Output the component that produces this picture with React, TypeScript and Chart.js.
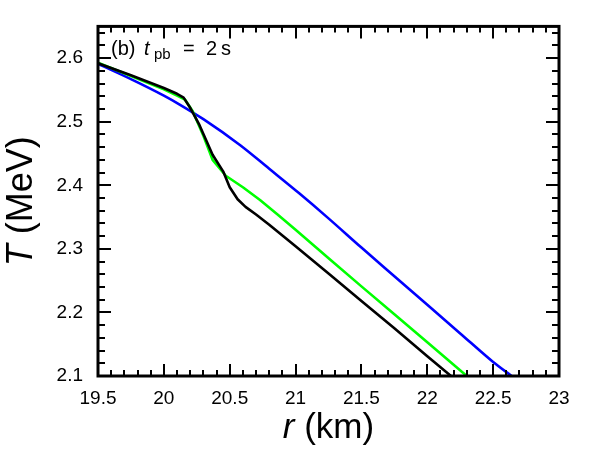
import React, { useEffect, useRef } from "react";
import { Chart, registerables } from "chart.js";

Chart.register(...registerables);

const blackX = [19.5, 19.75, 20.0, 20.1, 20.15, 20.2, 20.27, 20.37, 20.45, 20.5, 20.56, 20.62, 20.7, 20.8, 21.0, 21.264, 21.5, 21.75, 22.0, 22.18];
const blackY = [2.592, 2.573, 2.553, 2.544, 2.538, 2.522, 2.495, 2.448, 2.422, 2.397, 2.378, 2.366, 2.354, 2.338, 2.304, 2.259, 2.218, 2.175, 2.131, 2.1];

const greenX = [19.5, 19.75, 20.0, 20.1, 20.16, 20.22, 20.3, 20.37, 20.47, 20.6, 20.73, 20.87, 21.0, 21.264, 21.5, 21.75, 22.0, 22.3];
const greenY = [2.593, 2.572, 2.551, 2.541, 2.535, 2.516, 2.478, 2.44, 2.415, 2.397, 2.377, 2.353, 2.33, 2.283, 2.241, 2.197, 2.153, 2.1];

const blueX = [19.5, 19.75, 20.0, 20.12, 20.3, 20.58, 20.8, 21.03, 21.25, 21.5, 21.75, 22.0, 22.25, 22.5, 22.64];
const blueY = [2.591, 2.567, 2.541, 2.527, 2.504, 2.463, 2.426, 2.387, 2.348, 2.302, 2.257, 2.212, 2.167, 2.122, 2.1];

const xTicks = [19.5, 20, 20.5, 21, 21.5, 22, 22.5, 23];
const xTickLabels = ["19.5", "20", "20.5", "21", "21.5", "22", "22.5", "23"];
const yTicks = [2.1, 2.2, 2.3, 2.4, 2.5, 2.6];
const yTickLabels = ["2.1", "2.2", "2.3", "2.4", "2.5", "2.6"];
const xMin = 19.5, xMax = 23, yMin = 2.1, yMax = 2.65;
const xMinorStep = 0.1, yMinorStep = 0.02;

const FONT = "'Liberation Sans', Arial, sans-serif";

const toPts = (xs: number[], ys: number[]) => xs.map((x, i) => ({ x, y: ys[i] }));

const framePlugin = {
  id: "frameTicks",
  afterDraw(chart: any) {
    const { ctx, chartArea: a, scales } = chart;
    const xs = scales.x, ys = scales.y;
    ctx.save();
    ctx.strokeStyle = "#000";
    ctx.lineWidth = 2;
    ctx.beginPath();
    for (let v = xMin; v <= xMax + 1e-9; v += xMinorStep) {
      const major = Math.abs(v * 2 - Math.round(v * 2)) < 1e-6;
      const len = major ? 12 : 6;
      const px = Math.round(xs.getPixelForValue(v));
      ctx.moveTo(px, a.bottom);
      ctx.lineTo(px, a.bottom - len);
      ctx.moveTo(px, a.top);
      ctx.lineTo(px, a.top + len);
    }
    for (let v = yMin; v <= yMax + 1e-9; v += yMinorStep) {
      const major = Math.abs(v * 10 - Math.round(v * 10)) < 1e-6;
      const len = major ? 13 : 7;
      const py = Math.round(ys.getPixelForValue(v));
      ctx.moveTo(a.left, py);
      ctx.lineTo(a.left + len, py);
      ctx.moveTo(a.right, py);
      ctx.lineTo(a.right - len, py);
    }
    ctx.stroke();
    ctx.lineWidth = 3;
    ctx.strokeRect(a.left, a.top, a.right - a.left, a.bottom - a.top);

    ctx.fillStyle = "#000";
    ctx.textBaseline = "alphabetic";
    ctx.textAlign = "left";
    const drawRuns = (runs: { t: string; f: string; dy?: number }[], x: number, y: number) => {
      let cx = x;
      for (const r of runs) {
        ctx.font = r.f;
        ctx.fillText(r.t, cx, y + (r.dy || 0));
        cx += ctx.measureText(r.t).width;
      }
    };
    const measureRuns = (runs: { t: string; f: string }[]) => {
      let w = 0;
      for (const r of runs) {
        ctx.font = r.f;
        w += ctx.measureText(r.t).width;
      }
      return w;
    };
    const xTitle = [
      { t: "r", f: `italic 35px ${FONT}` },
      { t: " (km)", f: `35px ${FONT}` },
    ];
    const cxm = (a.left + a.right) / 2;
    drawRuns(xTitle, cxm - measureRuns(xTitle) / 2, 438);

    const yTitle = [
      { t: "T", f: `italic 36px ${FONT}` },
      { t: " (MeV)", f: `36px ${FONT}` },
    ];
    ctx.save();
    ctx.translate(32, (a.top + a.bottom) / 2);
    ctx.rotate(-Math.PI / 2);
    drawRuns(yTitle, -measureRuns(yTitle) / 2, 0);
    ctx.restore();

    // annotation "(b) t_pb = 2 s"
    const ay = 55;
    ctx.font = `20px ${FONT}`;
    ctx.fillText("(b)", 111, ay);
    ctx.font = `italic 20px ${FONT}`;
    ctx.fillText("t", 144, ay);
    ctx.font = `15px ${FONT}`;
    ctx.fillText("pb", 154, ay + 4);
    ctx.font = `20px ${FONT}`;
    ctx.fillText("=", 183, ay);
    ctx.fillText("2", 206, ay);
    ctx.fillText("s", 221, ay);
    ctx.restore();
  },
};

export default function App() {
  const ref = useRef<HTMLCanvasElement>(null);
  useEffect(() => {
    if (!ref.current) return;
    const ds = (xs: number[], ys: number[], color: string, smooth: boolean) => ({
      data: toPts(xs, ys),
      borderColor: color,
      borderWidth: 2.6,
      pointRadius: 0,
      fill: false,
      tension: 0,
      cubicInterpolationMode: smooth ? "monotone" : "default",
      borderJoinStyle: "round",
    });
    const chart = new Chart(ref.current, {
      type: "line",
      data: {
        datasets: [
          ds(blackX, blackY, "#000000", false),
          ds(greenX, greenY, "#00ff00", false),
          ds(blueX, blueY, "#0000ff", true),
        ],
      },
      options: {
        animation: false,
        responsive: false,
        devicePixelRatio: 1,
        layout: { padding: { left: 0, right: 41, top: 24, bottom: 0 } },
        plugins: { legend: { display: false }, tooltip: { enabled: false } },
        scales: {
          x: {
            type: "linear",
            min: xMin,
            max: xMax,
            grid: { display: false, drawTicks: false },
            border: { display: false },
            afterFit: (s: any) => { s.height = 74; },
            afterBuildTicks: (s: any) => { s.ticks = xTicks.map((v) => ({ value: v })); },
            ticks: {
              padding: 11,
              color: "#000",
              font: { family: FONT, size: 19 },
              maxRotation: 0,
              autoSkip: false,
              callback: (v: any) => { const i = xTicks.findIndex((t) => Math.abs(t - v) < 1e-6); return i >= 0 ? xTickLabels[i] : ""; },
            },
          },
          y: {
            type: "linear",
            min: yMin,
            max: yMax,
            grid: { display: false, drawTicks: false },
            border: { display: false },
            afterFit: (s: any) => { s.width = 98; },
            afterBuildTicks: (s: any) => { s.ticks = yTicks.map((v) => ({ value: v })); },
            ticks: {
              padding: 15,
              color: "#000",
              font: { family: FONT, size: 19 },
              autoSkip: false,
              callback: (v: any) => { const i = yTicks.findIndex((t) => Math.abs(t - v) < 1e-6); return i >= 0 ? yTickLabels[i] : ""; },
            },
          },
        },
      },
      plugins: [framePlugin],
    } as any);
    return () => chart.destroy();
  }, []);
  return (
    <div style={{ position: "absolute", left: 0, top: 0, width: 600, height: 450, background: "#fff" }}>
      <canvas ref={ref} width={600} height={450} />
    </div>
  );
}
